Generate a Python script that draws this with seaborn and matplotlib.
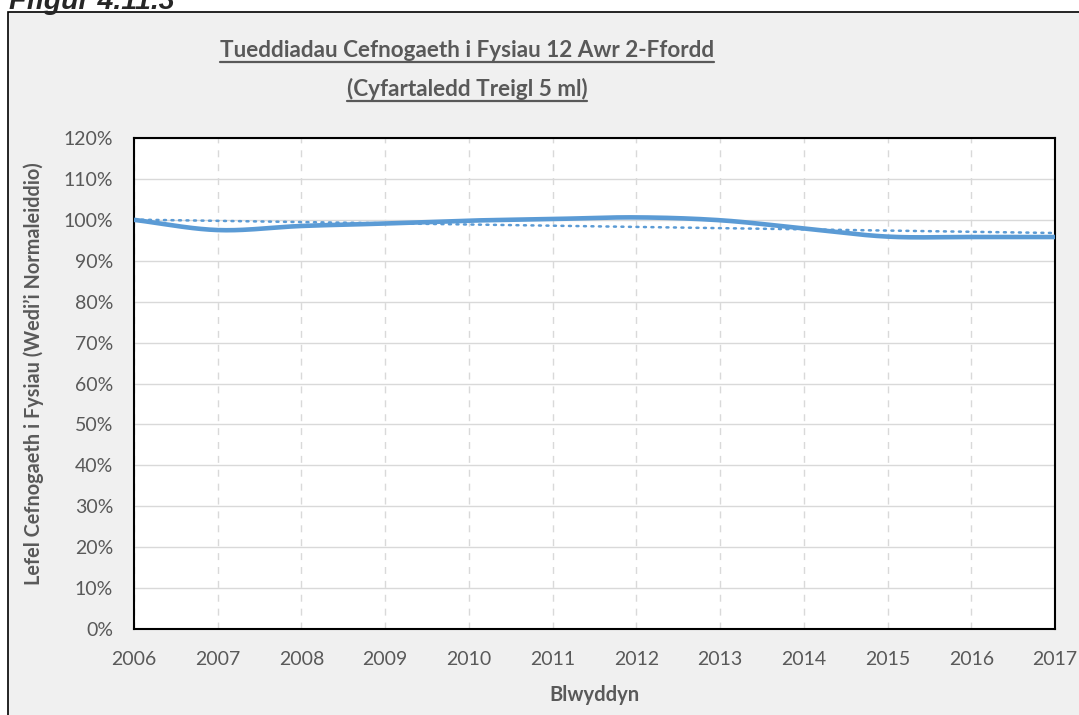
"""
Tueddiadau Cefnogaeth i Fysiau 12 Awr 2-Ffordd (Cyfartaledd Treigl 5 ml)
Smoothed line of normalised support levels plus a linear trend line.
"""
import numpy as np
import pandas as pd
import seaborn as sns
import matplotlib.pyplot as plt
from matplotlib.patches import Rectangle
from matplotlib.lines import Line2D
from matplotlib.ticker import FuncFormatter

# Data
YEARS = [2006, 2007, 2008, 2009, 2010, 2011, 2012, 2013, 2014, 2015, 2016, 2017]
SUPPORT = [1.000, 0.975, 0.985, 0.991, 0.998, 1.002, 1.006, 0.999, 0.979, 0.959, 0.958, 0.958]

TITLE_LINES = ["Tueddiadau Cefnogaeth i Fysiau 12 Awr 2-Ffordd", "(Cyfartaledd Treigl 5 ml)"]
X_LABEL = "Blwyddyn"
Y_LABEL = "Lefel Cefnogaeth i Fysiau (Wedi\u2019i Normaleiddio)"
FIG_LABEL = "Ffigur 4.11.3"

LINE_COLOR = "#5B9BD5"
TEXT_COLOR = "#595959"


def smooth_curve(x, y, steps=30):
    """Catmull-Rom style smoothing, similar to a spreadsheet 'smoothed line'."""
    x = np.asarray(x, dtype=float)
    y = np.asarray(y, dtype=float)
    px = np.concatenate(([2 * x[0] - x[1]], x, [2 * x[-1] - x[-2]]))
    py = np.concatenate(([2 * y[0] - y[1]], y, [2 * y[-1] - y[-2]]))
    xs, ys = [], []
    t = np.linspace(0, 1, steps, endpoint=False)
    for i in range(1, len(px) - 2):
        for arr, out in ((px, xs), (py, ys)):
            p0, p1, p2, p3 = arr[i - 1], arr[i], arr[i + 1], arr[i + 2]
            out.extend(0.5 * ((2 * p1) + (-p0 + p2) * t
                              + (2 * p0 - 5 * p1 + 4 * p2 - p3) * t ** 2
                              + (-p0 + 3 * p1 - 3 * p2 + p3) * t ** 3))
    xs.append(x[-1])
    ys.append(y[-1])
    return np.array(xs), np.array(ys)


def main():
    sns.set_style("white")
    plt.rcParams["font.family"] = ["Lato", "DejaVu Sans"]

    W, H = 1079, 715
    fig = plt.figure(figsize=(W / 100, H / 100), dpi=100)
    fig.patch.set_facecolor("white")

    # chart area frame (cropped on right and bottom)
    fig.patches.append(Rectangle((8 / W, -0.05), 1.1, 1 - 12 / H + 0.05,
                                 transform=fig.transFigure, facecolor="#F0F0F0",
                                 edgecolor="black", linewidth=1.2, zorder=-5))
    fig.text(9 / W, 1 - 9 / H, FIG_LABEL, fontsize=20.5, fontweight="bold",
             fontstyle="italic", family="Liberation Sans", va="baseline", ha="left")

    ax = fig.add_axes([134 / W, 1 - 629 / H, (1055 - 134) / W, (629 - 138) / H])
    ax.set_facecolor("white")

    df = pd.DataFrame({"year": YEARS, "support": SUPPORT})
    sx, sy = smooth_curve(df["year"], df["support"])
    sns.lineplot(x=sx, y=sy, ax=ax, color=LINE_COLOR, linewidth=3.3,
                 solid_capstyle="butt", zorder=3, sort=False)

    # linear trend line
    coef = np.polyfit(df["year"], df["support"], 1)
    trend = np.polyval(coef, df["year"])
    sns.lineplot(x=df["year"], y=trend, ax=ax, color=LINE_COLOR, linewidth=1.8,
                 linestyle=(0, (0.8, 2.2)), dash_capstyle="round", zorder=4)

    ax.set_xlim(2006, 2017)
    ax.set_ylim(0, 1.2)
    ax.set_xticks(YEARS)
    ax.set_yticks(np.arange(0, 1.21, 0.1))
    ax.yaxis.set_major_formatter(FuncFormatter(lambda v, _: f"{v * 100:.0f}%"))
    ax.grid(axis="y", color="#D9D9D9", linewidth=1.0)
    ax.grid(axis="x", color="#D9D9D9", linewidth=1.0, linestyle=(0, (5, 5)))
    ax.set_axisbelow(True)
    for s in ax.spines.values():
        s.set_color("black")
        s.set_linewidth(1.5)
    ax.tick_params(axis="both", length=0, labelsize=14, colors=TEXT_COLOR)
    ax.tick_params(axis="x", pad=16)
    ax.tick_params(axis="y", pad=15)

    ax.set_xlabel(X_LABEL, fontsize=14.5, fontweight="bold", color=TEXT_COLOR, labelpad=12)
    ax.set_ylabel(Y_LABEL, fontsize=14.3, fontweight="bold", color=TEXT_COLOR)
    ax.yaxis.set_label_coords(-(134 - 44) / (1055 - 134), (629 - 374) / (629 - 138))

    # underlined two-line title
    fig.canvas.draw()
    renderer = fig.canvas.get_renderer()
    for line, yb in zip(TITLE_LINES, [57, 96]):
        t = fig.text(467 / W, 1 - yb / H, line, ha="center", va="baseline", fontsize=16.2,
                     fontweight="bold", color=TEXT_COLOR)
        bb = t.get_window_extent(renderer=renderer)
        yu = 1 - (yb + 4.5) / H
        fig.lines.append(Line2D([bb.x0 / W, bb.x1 / W], [yu, yu], transform=fig.transFigure,
                                color=TEXT_COLOR, linewidth=1.6))

    fig.savefig("out.png", dpi=100, facecolor=fig.get_facecolor())


if __name__ == "__main__":
    main()
